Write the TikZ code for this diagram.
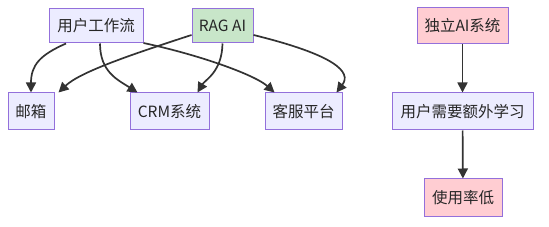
\documentclass[tikz,border=0pt]{standalone}
\usepackage{fontspec}
\setmainfont{Noto Sans CJK SC}
\usetikzlibrary{arrows.meta}
\definecolor{boxfill}{HTML}{ECECFF}
\definecolor{boxdraw}{HTML}{9370DB}
\definecolor{greenfill}{HTML}{C8E6C9}
\definecolor{pinkfill}{HTML}{FFCDD2}
\definecolor{edgecol}{HTML}{333333}
\begin{document}
\begin{tikzpicture}[x=1pt,y=-1pt,
  box/.style={draw=boxdraw,fill=boxfill,line width=1pt,inner sep=0pt,font=\fontsize{15.5}{17}\selectfont,text=black!85},
  link/.style={draw=edgecol,line width=1.7pt,-{Triangle[length=10pt,width=10pt]}}]
\useasboundingbox (0,0) rectangle (549,227);
\fill[white] (0,0) rectangle (549,227);
\node[box,minimum width=94pt,minimum height=34pt] (wf) at (96,26) {用户工作流};
\node[box,fill=greenfill,minimum width=61pt,minimum height=34pt] (rag) at (222.5,26) {RAG AI};
\node[box,minimum width=46pt,minimum height=37pt] (mail) at (31,111.5) {邮箱};
\node[box,minimum width=79pt,minimum height=37pt] (crm) at (169.5,111.5) {CRM系统};
\node[box,minimum width=77pt,minimum height=37pt] (kefu) at (303.5,111.5) {客服平台};
\node[box,fill=pinkfill,minimum width=91pt,minimum height=36pt] (ind) at (462.5,26) {独立AI系统};
\node[box,minimum width=141pt,minimum height=37pt] (learn) at (462.5,111.5) {用户需要额外学习};
\node[box,fill=pinkfill,minimum width=78pt,minimum height=37pt] (low) at (463,197.5) {使用率低};

\draw[link] ([xshift=-30pt]wf.south) .. controls (40,55) and (31,65) .. (mail.north);
\draw[link] ([xshift=4pt]wf.south) .. controls (100,72) and (118,80) .. ([xshift=8pt]crm.north west);
\draw[link] ([yshift=-3pt]wf.east |- 0,40) .. controls (200,55) and (255,75) .. ([xshift=10pt]kefu.north west);
\draw[link] (rag.west |- 0,35) .. controls (130,55) and (80,72) .. ([xshift=4pt]mail.north east);
\draw[link] ([xshift=0pt]rag.south) .. controls (222,72) and (205,80) .. ([xshift=-12pt]crm.north east);
\draw[link] (rag.east |- 0,35) .. controls (335,55) and (352,72) .. ([xshift=-6pt]kefu.north east);
\draw[link] (ind) -- (learn);
\draw[link] (learn) -- (low);
\end{tikzpicture}
\end{document}
